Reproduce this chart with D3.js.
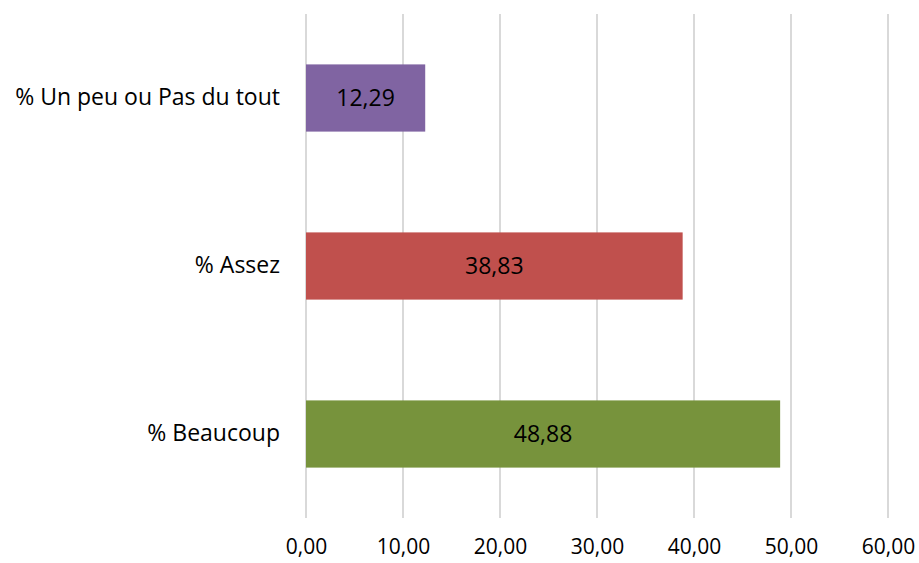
<!DOCTYPE html>
<html>
<head>
<meta charset="utf-8">
<script src="https://cdn.jsdelivr.net/npm/d3@7"></script>
<style>
  html, body { margin: 0; padding: 0; background: #fff; }
  svg { display: block; font-family: "Open Sans", sans-serif; }
</style>
</head>
<body>
<svg id="chart" width="919" height="563"></svg>
<script>
// Response categories, top to bottom
const categories = ["% Un peu ou Pas du tout", "% Assez", "% Beaucoup"];
// Share of respondents (%)
const values = [12.29, 38.83, 48.88];
const barColors = ["#8064A2", "#C0504D", "#77933C"];
const tickValues = [0, 10, 20, 30, 40, 50, 60];

const margin = { top: 14, right: 31, bottom: 45, left: 306 };
const width = 919, height = 563;
const font = "'Open Sans', sans-serif";

const svg = d3.select("#chart");
const fmt = v => d3.format(".2f")(v).replace(".", ",");

const x = d3.scaleLinear().domain([0, 60]).range([margin.left, width - margin.right]);
const y = d3.scaleBand().domain(categories)
  .range([margin.top, height - margin.bottom])
  .paddingInner(0.6).paddingOuter(0.3);

// Vertical gridlines
svg.append("g").selectAll("line").data(tickValues).join("line")
  .attr("x1", d => x(d)).attr("x2", d => x(d))
  .attr("y1", margin.top).attr("y2", height - margin.bottom)
  .attr("stroke", "#d9d9d9").attr("stroke-width", 2);

// X axis tick labels
const xAxis = d3.axisBottom(x).tickValues(tickValues).tickFormat(fmt).tickSize(0).tickPadding(0);
const gx = svg.append("g").attr("transform", `translate(0,${height - margin.bottom + 21})`).call(xAxis);
gx.select(".domain").remove();
gx.selectAll("text").attr("font-size", 21).attr("fill", "#000").attr("font-family", font);

// Category labels
const yAxis = d3.axisLeft(y).tickSize(0).tickPadding(26);
const gy = svg.append("g").attr("transform", `translate(${margin.left},0)`).call(yAxis);
gy.select(".domain").remove();
gy.selectAll("text").attr("font-size", 23).attr("fill", "#000").attr("font-family", font);

// Bars
svg.append("g").selectAll("rect").data(categories).join("rect")
  .attr("x", x(0))
  .attr("y", d => y(d))
  .attr("width", (d, i) => x(values[i]) - x(0))
  .attr("height", y.bandwidth())
  .attr("fill", (d, i) => barColors[i]);

// Value labels centred in bars
svg.append("g").selectAll("text").data(categories).join("text")
  .attr("x", (d, i) => (x(0) + x(values[i])) / 2)
  .attr("y", d => y(d) + y.bandwidth() / 2)
  .attr("dy", "0.35em")
  .attr("text-anchor", "middle")
  .attr("font-size", 23)
  .attr("font-family", font)
  .attr("fill", "#000")
  .text((d, i) => fmt(values[i]));
</script>
</body>
</html>
